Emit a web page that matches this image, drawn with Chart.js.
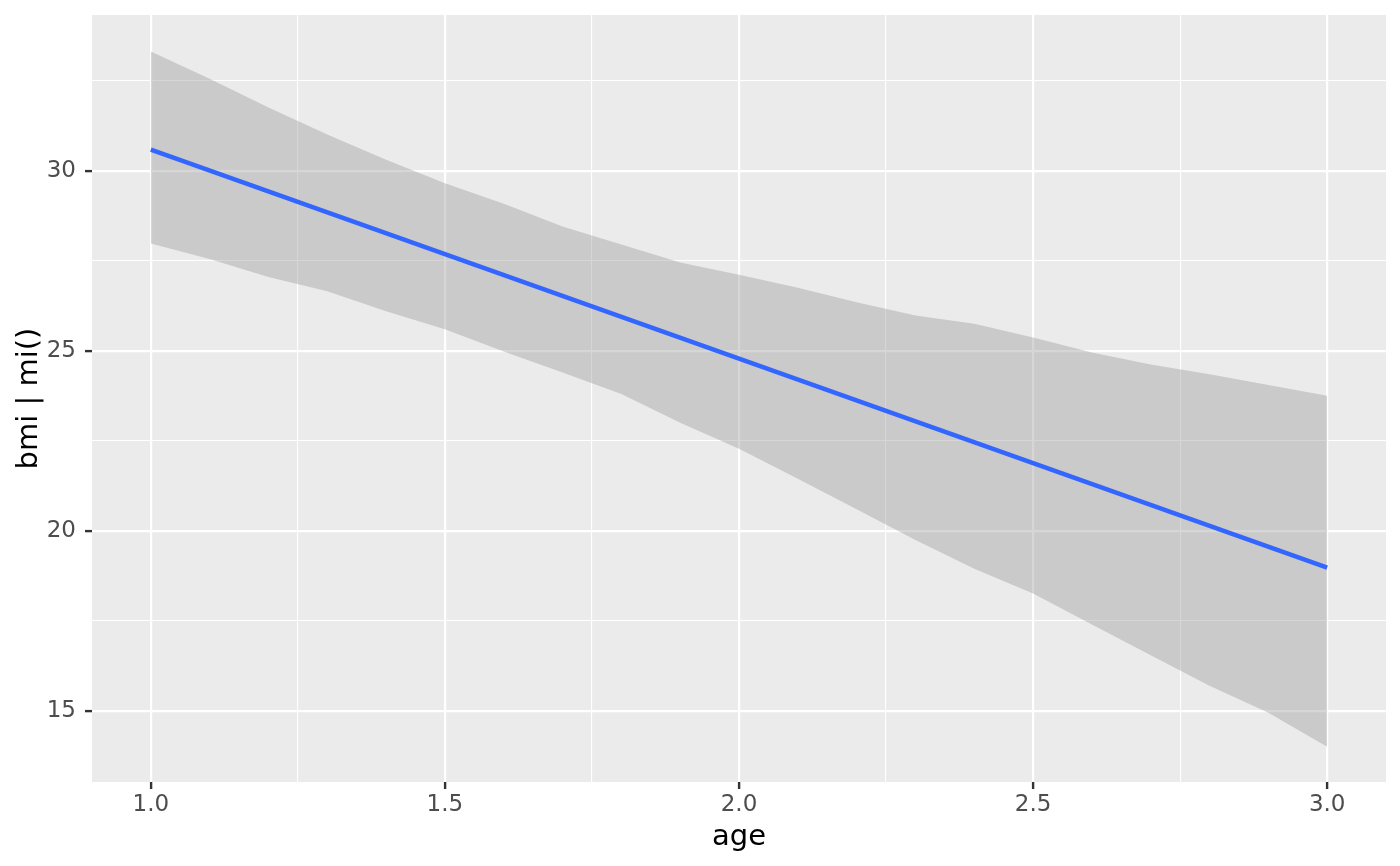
<!DOCTYPE html>
<html>
<head>
<meta charset="utf-8">
<script src="https://cdn.jsdelivr.net/npm/chart.js@4/dist/chart.umd.min.js"></script>
<style>
  html, body { margin: 0; padding: 0; background: #fff; }
  #wrap { width: 1400px; height: 866px; }
</style>
</head>
<body>
<div id="wrap"><canvas id="chart" width="1400" height="866"></canvas></div>
<script>
// values
const ages = [1.0, 1.1, 1.2, 1.3, 1.4, 1.5, 1.6, 1.7, 1.8, 1.9, 2.0,
              2.1, 2.2, 2.3, 2.4, 2.5, 2.6, 2.7, 2.8, 2.9, 3.0];
const upperBand = [33.31, 32.55, 31.75, 31.0, 30.3, 29.65, 29.08, 28.45, 27.95, 27.45, 27.11,
                   26.75, 26.35, 25.98, 25.75, 25.37, 24.95, 24.62, 24.35, 24.05, 23.75];
const lowerBand = [27.98, 27.55, 27.05, 26.65, 26.1, 25.6, 24.98, 24.4, 23.8, 23.0, 22.28,
                   21.45, 20.6, 19.75, 18.95, 18.26, 17.4, 16.55, 15.7, 14.95, 14.01];
const fitAges = [1.0, 3.0];
const fitValues = [30.58, 18.98];

const xTicks = [1.0, 1.25, 1.5, 1.75, 2.0, 2.25, 2.5, 2.75, 3.0];
const yTicks = [15, 17.5, 20, 22.5, 25, 27.5, 30, 32.5];

const pairs = (xs, ys) => xs.map((x, i) => ({ x: x, y: ys[i] }));

// grey panel behind the grid
const panelBg = {
    id: 'panelBg',
    beforeDraw(chart) {
        const a = chart.chartArea;
        const ctx = chart.ctx;
        ctx.save();
        ctx.fillStyle = '#EBEBEB';
        ctx.fillRect(a.left, a.top, a.right - a.left, a.bottom - a.top);
        ctx.restore();
    }
};

const isMajorX = v => Math.abs(v * 2 - Math.round(v * 2)) < 1e-6;
const isMajorY = v => Math.abs(v / 5 - Math.round(v / 5)) < 1e-6;

new Chart(document.getElementById('chart'), {
    type: 'scatter',
    data: {
        datasets: [
            {
                label: 'fit',
                data: pairs(fitAges, fitValues),
                showLine: true,
                borderColor: '#3366FF',
                borderWidth: 4.5,
                pointRadius: 0,
                fill: false,
                order: 0
            },
            {
                label: 'upper',
                data: pairs(ages, upperBand),
                showLine: true,
                borderWidth: 0,
                borderColor: 'rgba(0,0,0,0)',
                pointRadius: 0,
                backgroundColor: 'rgba(153,153,153,0.4)',
                fill: '+1',
                order: 1
            },
            {
                label: 'lower',
                data: pairs(ages, lowerBand),
                showLine: true,
                borderWidth: 0,
                borderColor: 'rgba(0,0,0,0)',
                pointRadius: 0,
                fill: false,
                order: 2
            }
        ]
    },
    options: {
        responsive: false,
        animation: false,
        layout: { padding: { top: 15, right: 14, left: 0, bottom: 0 } },
        plugins: {
            legend: { display: false },
            tooltip: { enabled: false }
        },
        scales: {
            x: {
                type: 'linear',
                min: 0.9,
                max: 3.1,
                afterBuildTicks: scale => { scale.ticks = xTicks.map(v => ({ value: v })); },
                afterFit: scale => {
                    scale.height = 84;
                    scale.paddingLeft = 0;
                    scale.paddingRight = 0;
                },
                border: { display: false },
                grid: {
                    color: c => '#FFFFFF',
                    lineWidth: c => isMajorX(c.tick.value) ? 2.2 : 1.1,
                    tickColor: c => isMajorX(c.tick.value) ? '#333333' : 'rgba(0,0,0,0)',
                    tickLength: 7,
                    tickWidth: 2.4
                },
                ticks: {
                    autoSkip: false,
                    maxRotation: 0,
                    padding: 2,
                    color: '#4D4D4D',
                    font: { family: 'DejaVu Sans', size: 23 },
                    callback: v => isMajorX(v) ? v.toFixed(1) : ''
                },
                title: {
                    display: true,
                    text: 'age',
                    color: '#000000',
                    font: { family: 'DejaVu Sans', size: 29 },
                    padding: { top: 2, bottom: 11 }
                }
            },
            y: {
                type: 'linear',
                min: 13.03,
                max: 34.32,
                afterBuildTicks: scale => { scale.ticks = yTicks.map(v => ({ value: v })); },
                afterFit: scale => {
                    scale.width = 92;
                    scale.paddingTop = 0;
                    scale.paddingBottom = 0;
                },
                border: { display: false },
                grid: {
                    color: c => '#FFFFFF',
                    lineWidth: c => isMajorY(c.tick.value) ? 2.2 : 1.1,
                    tickColor: c => isMajorY(c.tick.value) ? '#333333' : 'rgba(0,0,0,0)',
                    tickLength: 7,
                    tickWidth: 2.4
                },
                ticks: {
                    autoSkip: false,
                    padding: 9,
                    color: '#4D4D4D',
                    font: { family: 'DejaVu Sans', size: 23 },
                    callback: v => isMajorY(v) ? String(v) : ''
                },
                title: {
                    display: true,
                    text: 'bmi | mi()',
                    color: '#000000',
                    font: { family: 'DejaVu Sans', size: 29 },
                    padding: { top: 12, bottom: 0 }
                }
            }
        }
    },
    plugins: [panelBg]
});
</script>
</body>
</html>
